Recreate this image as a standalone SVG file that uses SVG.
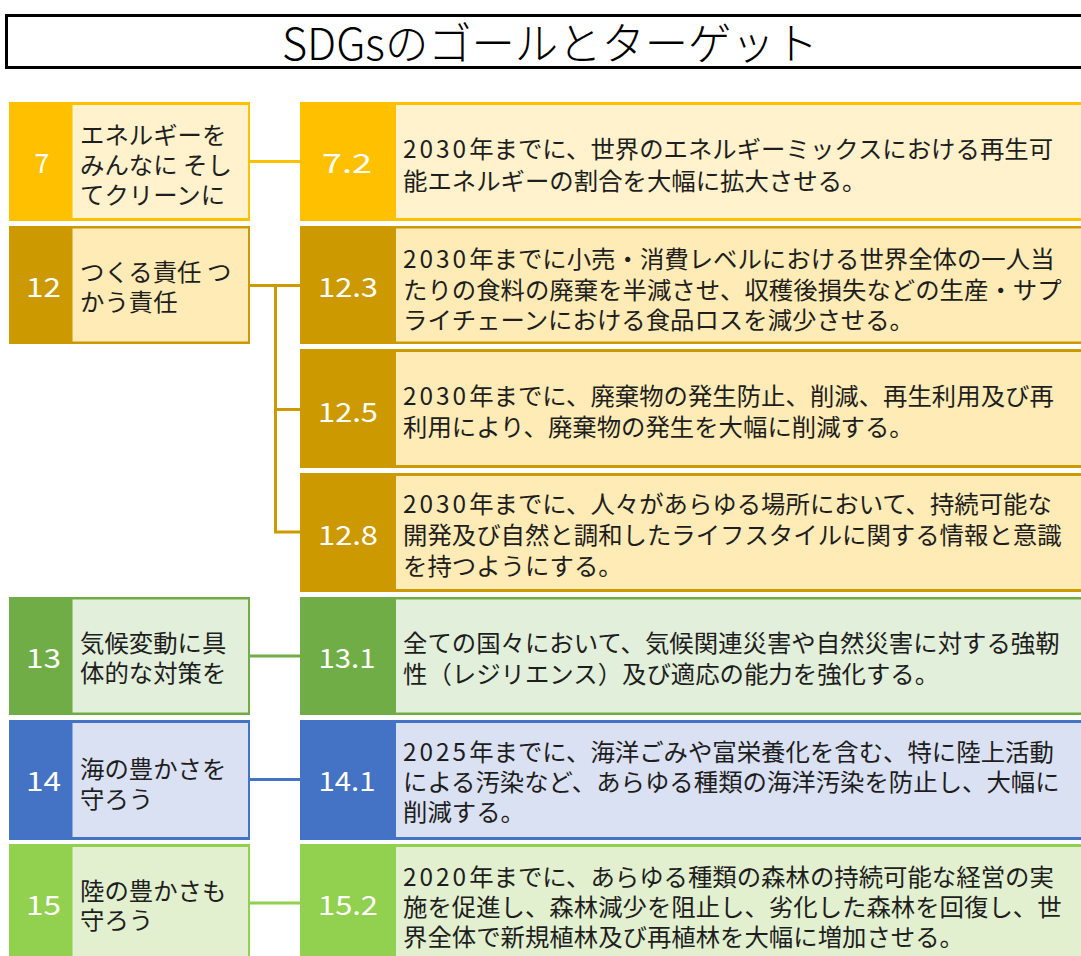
<svg xmlns="http://www.w3.org/2000/svg" width="1081" height="956" viewBox="0 0 1081 956">
<style>
  text { font-family: "Noto Sans CJK JP", "Noto Sans", sans-serif; }
  .num { fill: #ffffff; font-size: 27px; text-anchor: middle; dominant-baseline: central; }
  .lbl { fill: #1e1e1e; font-size: 24.4px; dominant-baseline: central; }
  .d { letter-spacing: 3px; }
  .conn { fill: none; stroke-width: 3; }
</style>
<rect width="1081" height="956" fill="#ffffff"/>
<g id="title">
  <rect x="6.5" y="15.5" width="1090" height="52" fill="#ffffff" stroke="#000000" stroke-width="3"/>
  <text x="550" y="60" font-size="44" font-weight="300" text-anchor="middle" textLength="536" lengthAdjust="spacingAndGlyphs" fill="#000000">SDGsのゴールとターゲット</text>
</g>
<g id="connectors">
  <line class="conn" stroke="#FFC000" x1="250" y1="161.5" x2="300" y2="161.5"/>
  <polyline class="conn" stroke="#CC9900" points="250,285.5 300,285.5"/>
  <polyline class="conn" stroke="#CC9900" points="275.5,285.5 275.5,532 300,532"/>
  <line class="conn" stroke="#CC9900" x1="275.5" y1="409.5" x2="300" y2="409.5"/>
  <line class="conn" stroke="#70AD47" x1="250" y1="656" x2="300" y2="656"/>
  <line class="conn" stroke="#4472C4" x1="250" y1="779.5" x2="300" y2="779.5"/>
  <line class="conn" stroke="#92D050" x1="250" y1="903" x2="300" y2="903"/>
</g>
<g id="goal7">
  <rect x="9" y="102" width="241" height="119" fill="#FFC000"/>
  <rect x="72.5" y="105" width="175.5" height="113" fill="#FFF2CC"/>
  <text class="num" x="42" y="161.5">7</text>
  <text class="lbl" x="80" y="133">エネルギーを</text>
  <text class="lbl" x="80" y="163">みんなに そし</text>
  <text class="lbl" x="80" y="193">てクリーンに</text>
</g>
<g id="goal12">
  <rect x="9" y="226" width="241" height="118" fill="#CC9900"/>
  <rect x="72.5" y="228.5" width="175.5" height="113" fill="#FFEBB5"/>
  <text class="num" x="43.5" y="285.5" textLength="35" lengthAdjust="spacingAndGlyphs">12</text>
  <text class="lbl" x="80" y="270">つくる責任 つ</text>
  <text class="lbl" x="80" y="300">かう責任</text>
</g>
<g id="goal13">
  <rect x="9" y="597" width="241" height="118" fill="#70AD47"/>
  <rect x="72.5" y="599.5" width="175.5" height="113" fill="#E2EFDA"/>
  <text class="num" x="43.5" y="656" textLength="35" lengthAdjust="spacingAndGlyphs">13</text>
  <text class="lbl" x="80" y="641">気候変動に具</text>
  <text class="lbl" x="80" y="671">体的な対策を</text>
</g>
<g id="goal14">
  <rect x="9" y="720" width="241" height="120" fill="#4472C4"/>
  <rect x="72.5" y="723" width="175.5" height="114" fill="#DAE1F3"/>
  <text class="num" x="43.5" y="779.5" textLength="35" lengthAdjust="spacingAndGlyphs">14</text>
  <text class="lbl" x="80" y="767">海の豊かさを</text>
  <text class="lbl" x="80" y="797">守ろう</text>
</g>
<g id="goal15">
  <rect x="9" y="844" width="241" height="120" fill="#92D050"/>
  <rect x="72.5" y="847" width="175.5" height="114" fill="#E2F0D0"/>
  <text class="num" x="43.5" y="903" textLength="35" lengthAdjust="spacingAndGlyphs">15</text>
  <text class="lbl" x="80" y="889">陸の豊かさも</text>
  <text class="lbl" x="80" y="918">守ろう</text>
</g>
<g id="target7-2">
  <rect x="300" y="102" width="800" height="119" fill="#FFC000"/>
  <rect x="396" y="105" width="700" height="113" fill="#FFF2CC"/>
  <text class="num" x="347" y="161.5" textLength="50" lengthAdjust="spacingAndGlyphs">7.2</text>
  <text class="lbl" x="403" y="147"><tspan class="d">2030</tspan>年までに、世界のエネルギーミックスにおける再生可</text>
  <text class="lbl" x="403" y="179">能エネルギーの割合を大幅に拡大させる。</text>
</g>
<g id="target12-3">
  <rect x="300" y="226" width="800" height="118" fill="#CC9900"/>
  <rect x="396" y="228.5" width="700" height="113" fill="#FFEBB5"/>
  <text class="num" x="348" y="285.5" textLength="60" lengthAdjust="spacingAndGlyphs">12.3</text>
  <text class="lbl" x="403" y="257"><tspan class="d">2030</tspan>年までに小売・消費レベルにおける世界全体の一人当</text>
  <text class="lbl" x="403" y="288">たりの食料の廃棄を半減させ、収穫後損失などの生産・サプ</text>
  <text class="lbl" x="403" y="318">ライチェーンにおける食品ロスを減少させる。</text>
</g>
<g id="target12-5">
  <rect x="300" y="349" width="800" height="119" fill="#CC9900"/>
  <rect x="396" y="352" width="700" height="113" fill="#FFEBB5"/>
  <text class="num" x="348" y="410" textLength="60" lengthAdjust="spacingAndGlyphs">12.5</text>
  <text class="lbl" x="403" y="394"><tspan class="d">2030</tspan>年までに、廃棄物の発生防止、削減、再生利用及び再</text>
  <text class="lbl" x="403" y="425">利用により、廃棄物の発生を大幅に削減する。</text>
</g>
<g id="target12-8">
  <rect x="300" y="473" width="800" height="119" fill="#CC9900"/>
  <rect x="396" y="476" width="700" height="113" fill="#FFEBB5"/>
  <text class="num" x="348" y="533" textLength="60" lengthAdjust="spacingAndGlyphs">12.8</text>
  <text class="lbl" x="403" y="502"><tspan class="d">2030</tspan>年までに、人々があらゆる場所において、持続可能な</text>
  <text class="lbl" x="403" y="533">開発及び自然と調和したライフスタイルに関する情報と意識</text>
  <text class="lbl" x="403" y="564">を持つようにする。</text>
</g>
<g id="target13-1">
  <rect x="300" y="597" width="800" height="118" fill="#70AD47"/>
  <rect x="396" y="599.5" width="700" height="113" fill="#E2EFDA"/>
  <text class="num" x="347" y="656" textLength="57" lengthAdjust="spacingAndGlyphs">13.1</text>
  <text class="lbl" x="403" y="641">全ての国々において、気候関連災害や自然災害に対する強靭</text>
  <text class="lbl" x="403" y="672">性（レジリエンス）及び適応の能力を強化する。</text>
</g>
<g id="target14-1">
  <rect x="300" y="720" width="800" height="120" fill="#4472C4"/>
  <rect x="396" y="723" width="700" height="114" fill="#DAE1F3"/>
  <text class="num" x="347" y="779.5" textLength="57" lengthAdjust="spacingAndGlyphs">14.1</text>
  <text class="lbl" x="403" y="750"><tspan class="d">2025</tspan>年までに、海洋ごみや富栄養化を含む、特に陸上活動</text>
  <text class="lbl" x="403" y="780">による汚染など、あらゆる種類の海洋汚染を防止し、大幅に</text>
  <text class="lbl" x="403" y="810">削減する。</text>
</g>
<g id="target15-2">
  <rect x="300" y="844" width="800" height="120" fill="#92D050"/>
  <rect x="396" y="847" width="700" height="114" fill="#E2F0D0"/>
  <text class="num" x="348" y="903" textLength="60" lengthAdjust="spacingAndGlyphs">15.2</text>
  <text class="lbl" x="403" y="875"><tspan class="d">2020</tspan>年までに、あらゆる種類の森林の持続可能な経営の実</text>
  <text class="lbl" x="403" y="905">施を促進し、森林減少を阻止し、劣化した森林を回復し、世</text>
  <text class="lbl" x="403" y="935">界全体で新規植林及び再植林を大幅に増加させる。</text>
</g>
</svg>
